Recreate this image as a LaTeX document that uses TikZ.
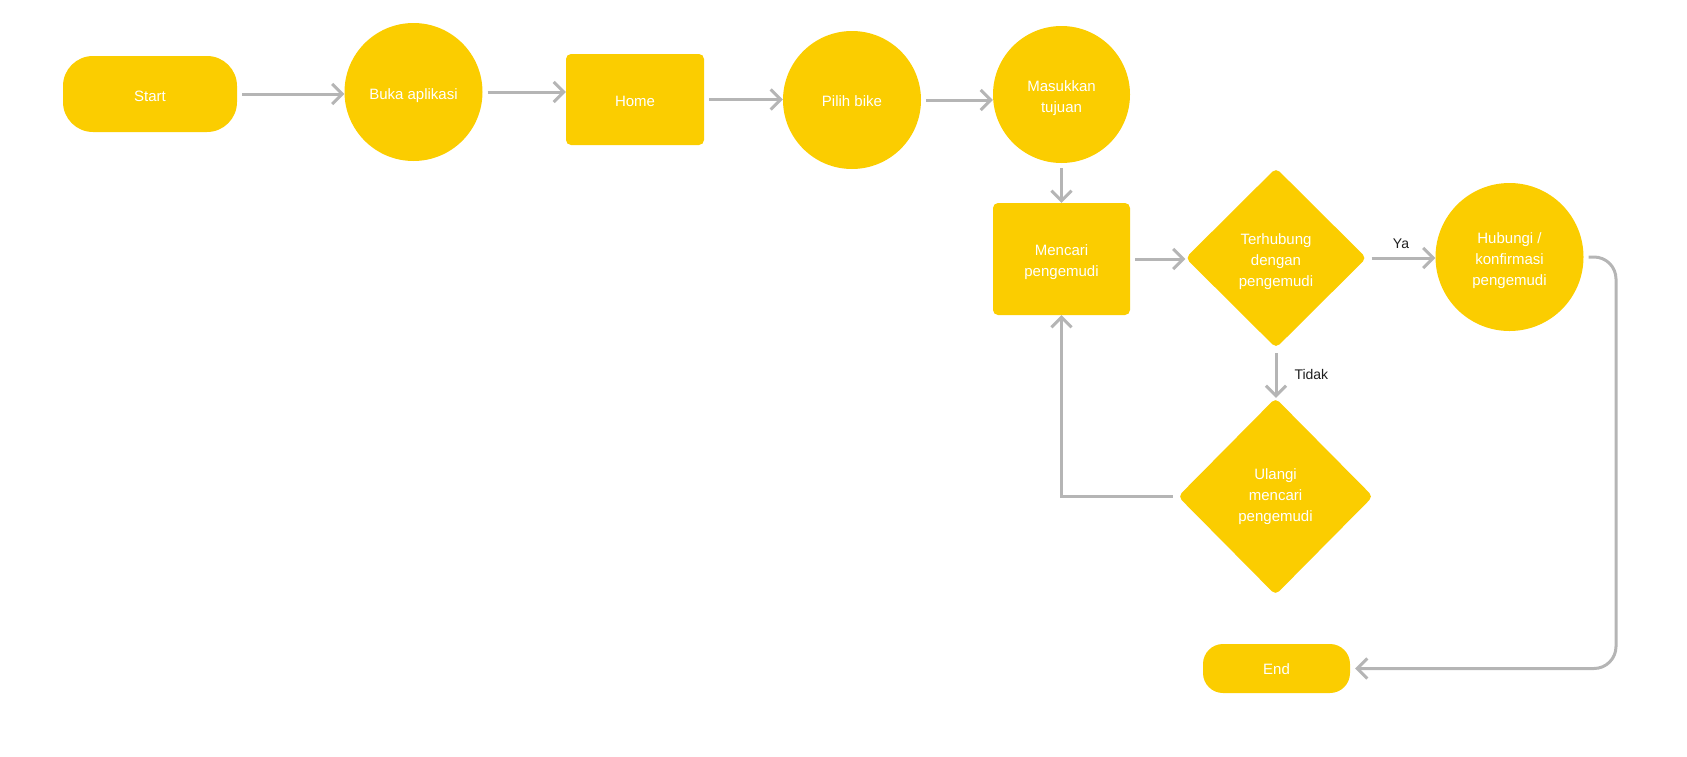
\documentclass[tikz,border=0pt]{standalone}
\usepackage{fontspec}
\setmainfont{Liberation Sans}
\usetikzlibrary{shapes.geometric,arrows.meta}
\definecolor{fy}{HTML}{FBCD00}
\definecolor{lg}{HTML}{B5B5B5}
\definecolor{lb}{HTML}{1E1E1E}
\newcommand\fls[1]{\rule{0pt}{#1pt}}
\begin{document}
\begin{tikzpicture}[x=1pt,y=-1pt,
 base/.style={fill=fy,draw=none,text=white,font=\fontsize{15}{21}\selectfont,align=center,inner sep=0pt},
 conn/.style={draw=lg,line width=3pt,-{Straight Barb[length=10pt,width=20pt]},shorten <=5pt,shorten >=0pt},
 lbl/.style={text=lb,font=\fontsize{14}{17}\selectfont,inner sep=0pt}
]
\useasboundingbox (0,0) rectangle (1687,756);
\node[base,rectangle,rounded corners=30pt,minimum width=174pt,minimum height=76pt] (start) at (150,94) {\fls{16}Start};
\node[base,circle,minimum size=138pt] (buka) at (413.5,92) {\fls{17.5}Buka aplikasi};
\node[base,rectangle,rounded corners=5pt,minimum width=138pt,minimum height=91pt] (home) at (635,99.5) {\fls{14}Home};
\node[base,circle,minimum size=138pt] (pilih) at (852,100) {\fls{13}Pilih bike};
\node[base,circle,minimum size=137pt] (masuk) at (1061.5,94.5) {\fls{17.5}Masukkan\\tujuan};
\node[base,rectangle,rounded corners=5pt,minimum width=137pt,minimum height=112pt] (cari) at (1061.5,259) {\fls{16.5}Mencari\\pengemudi};
\node[base,diamond,rounded corners=5pt,minimum width=181pt,minimum height=180pt] (hub) at (1276,258) {\fls{18}Terhubung\\dengan\\pengemudi};
\node[base,circle,minimum size=148pt] (konf) at (1509.5,257) {\fls{18}Hubungi /\\konfirmasi\\pengemudi};
\node[base,diamond,rounded corners=5pt,minimum width=195pt,minimum height=197pt] (ulang) at (1275.5,496.5) {\fls{12}Ulangi\\mencari\\pengemudi};
\node[base,rectangle,rounded corners=20pt,minimum width=147pt,minimum height=49pt] (end) at (1276.5,668.5) {\fls{12}End};
\coordinate (turn) at (1616,668.5);

\draw[conn] (start.east) -- (start.east -| buka.west);
\draw[conn] (buka.east) -- (buka.east -| home.west);
\draw[conn] (home.east) -- (home.east -| pilih.west);
\draw[conn] (pilih.east) -- (pilih.east -| masuk.west);
\draw[conn] (masuk.south) -- (cari.north);
\draw[conn] (cari.east) -- (cari.east -| hub.west);
\draw[conn] (hub.east) -- (hub.east -| konf.west) node[lbl,pos=0.5,above=8pt] {Ya};
\draw[conn] (hub.south) -- (hub.south |- ulang.north) node[lbl,midway,right=17pt,yshift=-1.5pt] {Tidak};
\draw[conn] (ulang.west) -| (cari.south);
\draw[conn,rounded corners=22pt,shorten >=5pt] (konf.east) -| (turn) -- (end.east);
\end{tikzpicture}
\end{document}
